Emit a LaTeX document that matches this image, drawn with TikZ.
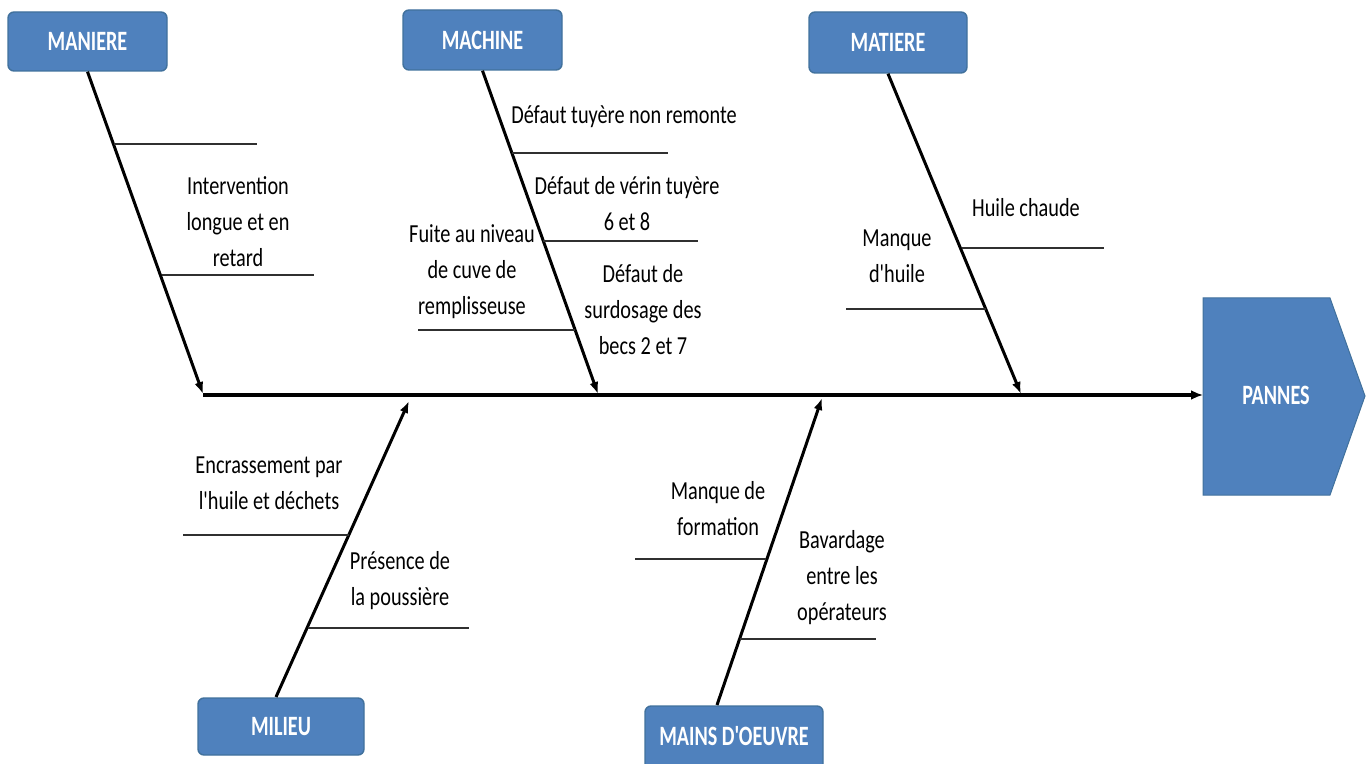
\documentclass[tikz,border=0pt]{standalone}
\usepackage{fontspec}
\setmainfont{Carlito}[FakeStretch=0.78, Ligatures=TeXOff]
\newfontfamily\hdfont{Carlito}[FakeStretch=0.72, Ligatures=TeXOff]
\usetikzlibrary{arrows.meta}
\definecolor{boxblue}{HTML}{4F81BD}
\definecolor{boxedge}{HTML}{41719C}
\definecolor{subline}{HTML}{303030}
\tikzset{
  hdbox/.style={draw=boxedge, fill=boxblue, line width=0.7pt, rounded corners=3pt, inner sep=0pt,
    font=\hdfont\fontsize{14}{16}\selectfont\bfseries, text=white},
  bone/.style={line width=1.5pt, -{Latex[length=6pt,width=4.5pt]}},
  spine/.style={line width=2pt, -{Latex[length=6pt,width=5pt]}},
  sub/.style={line width=1pt, draw=subline},
  lbl/.style={align=center, inner sep=0pt, font=\fontsize{13}{18}\selectfont}
}
\begin{document}
\begin{tikzpicture}[x=0.5pt, y=-0.5pt]
\useasboundingbox (0,0) rectangle (1370,764);
% header boxes
\node[hdbox, minimum width=79.5pt, minimum height=29.5pt] (maniere) at (87.5,41.5) {MANIERE};
\node[hdbox, minimum width=79.5pt, minimum height=30pt] (machine) at (482.5,40) {MACHINE};
\node[hdbox, minimum width=79pt, minimum height=30.5pt] (matiere) at (888,42.5) {MATIERE};
\node[hdbox, minimum width=83pt, minimum height=28.5pt] (milieu) at (281,726.5) {MILIEU};
\path[draw=boxedge, fill=boxblue, line width=0.7pt, rounded corners=3pt] (645,766) -- (645,706) -- (823,706) -- (823,766);
\node[inner sep=0pt, font=\hdfont\fontsize{14}{16}\selectfont\bfseries, text=white] (mains) at (734,736) {MAINS D'OEUVRE};
% effect
\path[fill=boxblue, draw=boxedge, line width=0.5pt] (1203,298) -- (1330,298) -- (1365,396) -- (1330,495) -- (1203,495) -- cycle;
\node[inner sep=0pt, font=\hdfont\fontsize{14}{16}\selectfont\bfseries, text=white] (pannes) at (1276,395) {PANNES};
% coordinates
\coordinate (axs) at (203,395);
\coordinate (axe) at (1203,395);
\coordinate (b1e) at (203,394);
\coordinate (b2e) at (598,394);
\coordinate (b3e) at (1021,394);
\coordinate (b4s) at (276,697);
\coordinate (b4e) at (409,401);
\coordinate (b5s) at (717,705);
\coordinate (b5e) at (822,398);
% spine and bones
\draw[spine] (axs) -- (axe);
\draw[bone] (maniere.south) -- (b1e);
\draw[bone] (machine.south) -- (b2e);
\draw[bone] (matiere.south) -- (b3e);
\draw[bone] (b4s) -- (b4e);
\draw[bone] (b5s) -- (b5e);
% sub lines
\coordinate (s1a) at (114,144); \coordinate (s1b) at (257,144);
\coordinate (s2a) at (162,275); \coordinate (s2b) at (314,275);
\coordinate (s3a) at (512,153); \coordinate (s3b) at (668,153);
\coordinate (s4a) at (543,241); \coordinate (s4b) at (698,241);
\coordinate (s5a) at (575,330); \coordinate (s5b) at (418,330);
\coordinate (s6a) at (962,248); \coordinate (s6b) at (1104,248);
\coordinate (s7a) at (986,309); \coordinate (s7b) at (846,309);
\coordinate (s8a) at (349,535); \coordinate (s8b) at (183,535);
\coordinate (s9a) at (308,628); \coordinate (s9b) at (469,628);
\coordinate (s10a) at (766,559); \coordinate (s10b) at (635,559);
\coordinate (s11a) at (740,639); \coordinate (s11b) at (876,639);
\foreach \i in {1,...,11} {\draw[sub] (s\i a) -- (s\i b);}
% labels
\node[lbl] (t1) at (238,222) {Intervention\\longue et en\\retard};
\node[lbl] (t2) at (624,117) {Défaut tuyère non remonte};
\node[lbl] (t3) at (627,203.5) {Défaut de vérin tuyère\\6 et 8};
\node[lbl] (t4) at (472,272) {Fuite au niveau\\de cuve de\\remplisseuse};
\node[lbl] (t5) at (643,310) {Défaut de\\surdosage des\\becs 2 et 7};
\node[lbl] (t6) at (1026,208) {Huile chaude};
\node[lbl] (t7) at (897,256.5) {Manque\\d'huile};
\node[lbl] (t8) at (269,483) {Encrassement par\\l'huile et déchets};
\node[lbl] (t9) at (400,581) {Présence de\\la poussière};
\node[lbl] (t10) at (718,509) {Manque de\\formation};
\node[lbl] (t11) at (842,578) {Bavardage\\entre les\\opérateurs};
\end{tikzpicture}
\end{document}
